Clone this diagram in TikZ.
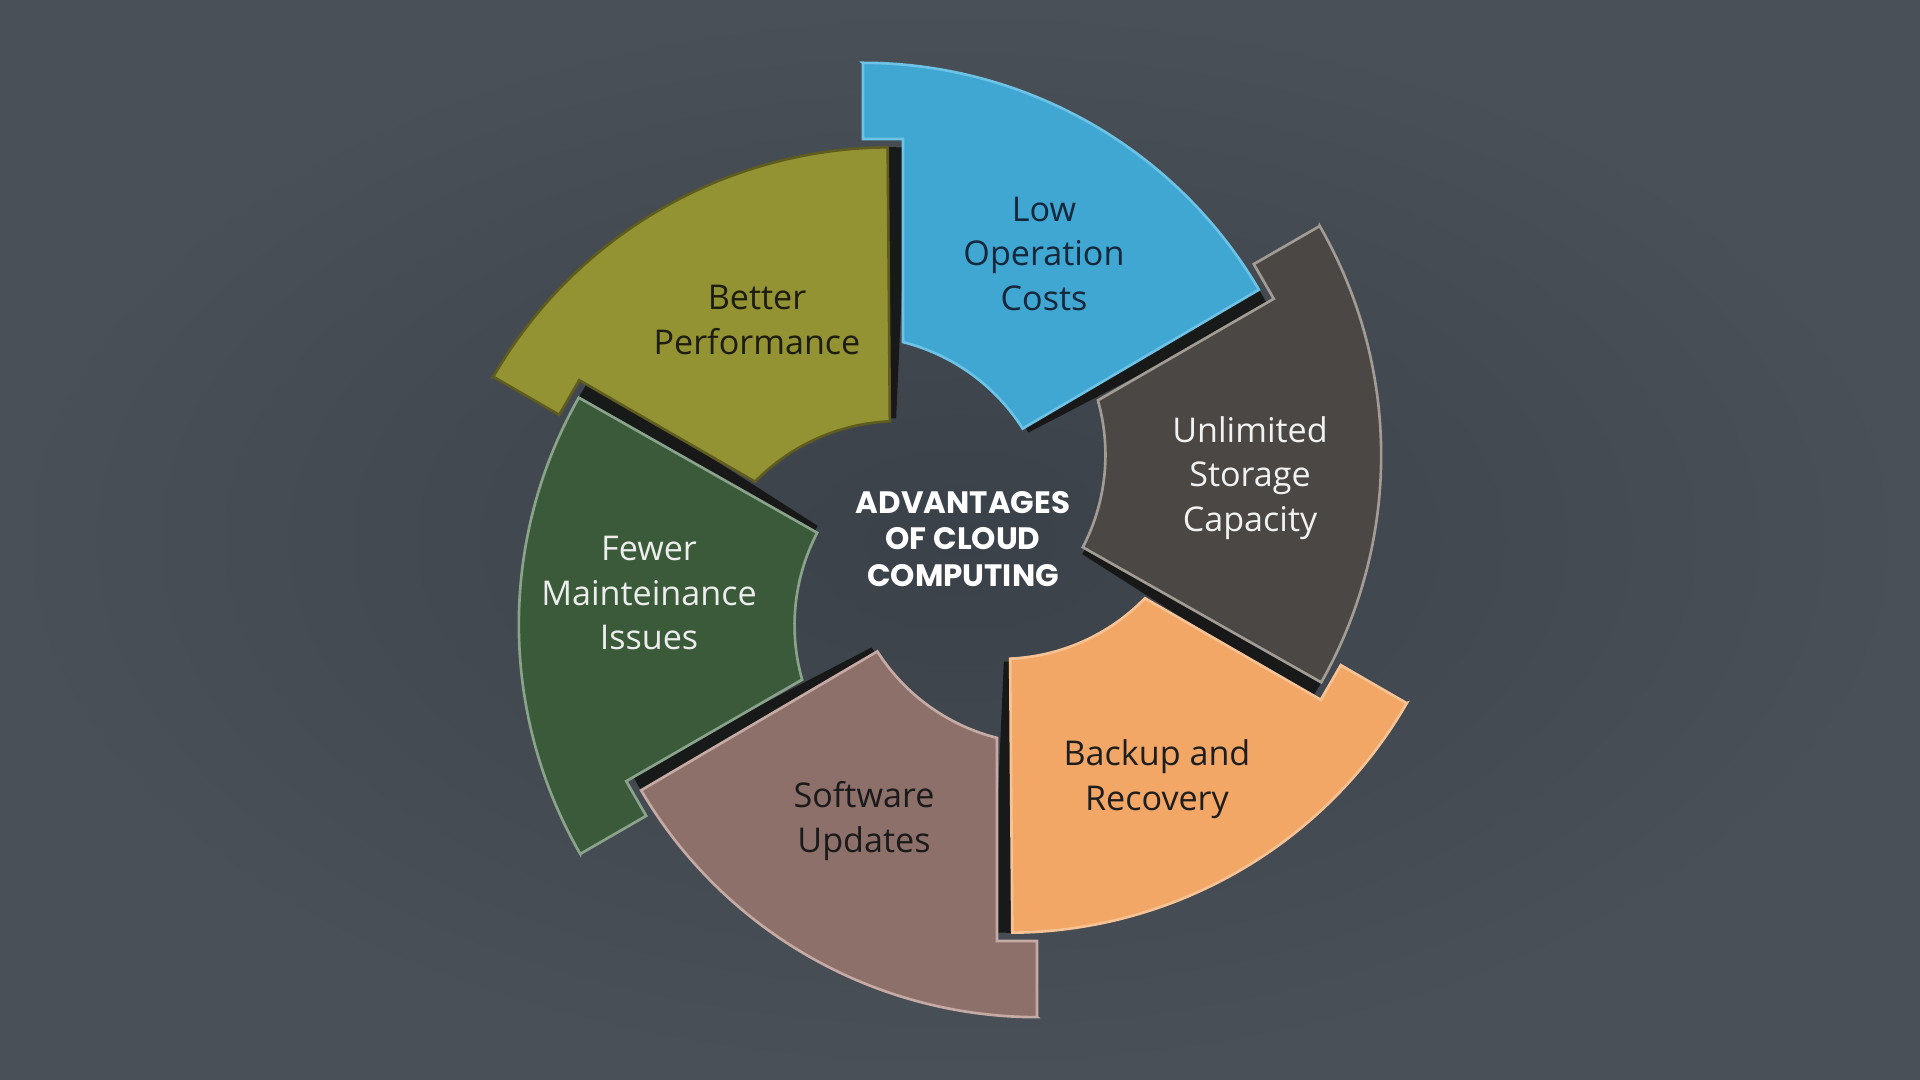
\documentclass[tikz,border=0pt]{standalone}
\usepackage{fontspec}
\setmainfont{Open Sans}
\newfontfamily\titlefont{Poppins}
\definecolor{bgin}{HTML}{3B4149}
\definecolor{bgout}{HTML}{4A5058}
\definecolor{cBlue}{HTML}{40A6D2}\definecolor{bBlue}{HTML}{6CC3E6}\definecolor{tBlue}{HTML}{15273A}
\definecolor{cGrey}{HTML}{4A4744}\definecolor{bGrey}{HTML}{A39C95}\definecolor{tGrey}{HTML}{F2F2F2}
\definecolor{cOrange}{HTML}{F2A766}\definecolor{bOrange}{HTML}{F7C395}\definecolor{tOrange}{HTML}{1E1E1E}
\definecolor{cBrown}{HTML}{8E706B}\definecolor{bBrown}{HTML}{C6AAA4}\definecolor{tBrown}{HTML}{1A1A1A}
\definecolor{cGreen}{HTML}{3A5A3A}\definecolor{bGreen}{HTML}{8AA48B}\definecolor{tGreen}{HTML}{EDEDED}
\definecolor{cYellow}{HTML}{939333}\definecolor{bYellow}{HTML}{5F5C1F}\definecolor{tYellow}{HTML}{1C1C10}
\newcommand\piecepath{(863,-63) -- (863,-139) -- (903,-139) -- (903,-342.1)
  arc[start angle=75.8, end angle=32.5, radius=2cm] -- (1258.9,-289.7)
  arc[start angle=30.4, end angle=90, radius=4.59cm] -- cycle}
\newcommand\pieceshadow[1]{%
  \begin{scope}[rotate around={#1:(950,-540)}]
    \clip (1322,-522) arc[start angle=0, end angle=360, radius=4.59cm]
       -- (1054,-536) arc[start angle=360, end angle=0, radius=2cm] -- cycle;
    \fill[black!92, opacity=0.9, rotate around={-3:(950,-540)}] \piecepath;
  \end{scope}}
\newcommand\piecebody[3]{\filldraw[fill=#2, draw=#3, line width=0.75pt, line join=miter, rotate around={#1:(950,-540)}] \piecepath;}
\tikzset{
  lbl/.style={font=\fontsize{9.7}{12.6}\selectfont, align=center, inner sep=0pt},
  ttl/.style={font={\titlefont\bfseries\fontsize{8.8}{10.45}\selectfont}, align=center, inner sep=0pt, text=white}
}
\begin{document}
\begin{tikzpicture}[x=0.01cm, y=0.01cm]
\useasboundingbox (0,0) rectangle (1920,-1080);
\shade[inner color=bgin, outer color=bgout] (0,0) rectangle (1920,-1080);
% shadows in the gaps
\foreach \k in {0,...,5}{\pieceshadow{-60*\k}}
% pieces
\piecebody{0}{cBlue}{bBlue}
\piecebody{-60}{cGrey}{bGrey}
\piecebody{-120}{cOrange}{bOrange}
\piecebody{-180}{cBrown}{bBrown}
\piecebody{-240}{cGreen}{bGreen}
\piecebody{-300}{cYellow}{bYellow}
% labels
\node[lbl, text=tBlue] (low) at (1044,-254) {Low\\Operation\\Costs};
\node[lbl, text=tGrey] (unl) at (1250,-478) {Unlimited\\Storage\\Capacity};
\node[lbl, text=tOrange] (bak) at (1157,-779) {Backup and\\Recovery};
\node[lbl, text=tBrown] (sof) at (864,-821) {Software\\Updates};
\node[lbl, text=tGreen] (few) at (649,-593) {Fewer\\Mainteinance\\Issues};
\node[lbl, text=tYellow] (bet) at (757,-320) {Better\\Performance};
\node[ttl] (title) at (963,-539) {ADVANTAGES\\OF CLOUD\\COMPUTING};
\end{tikzpicture}
\end{document}
